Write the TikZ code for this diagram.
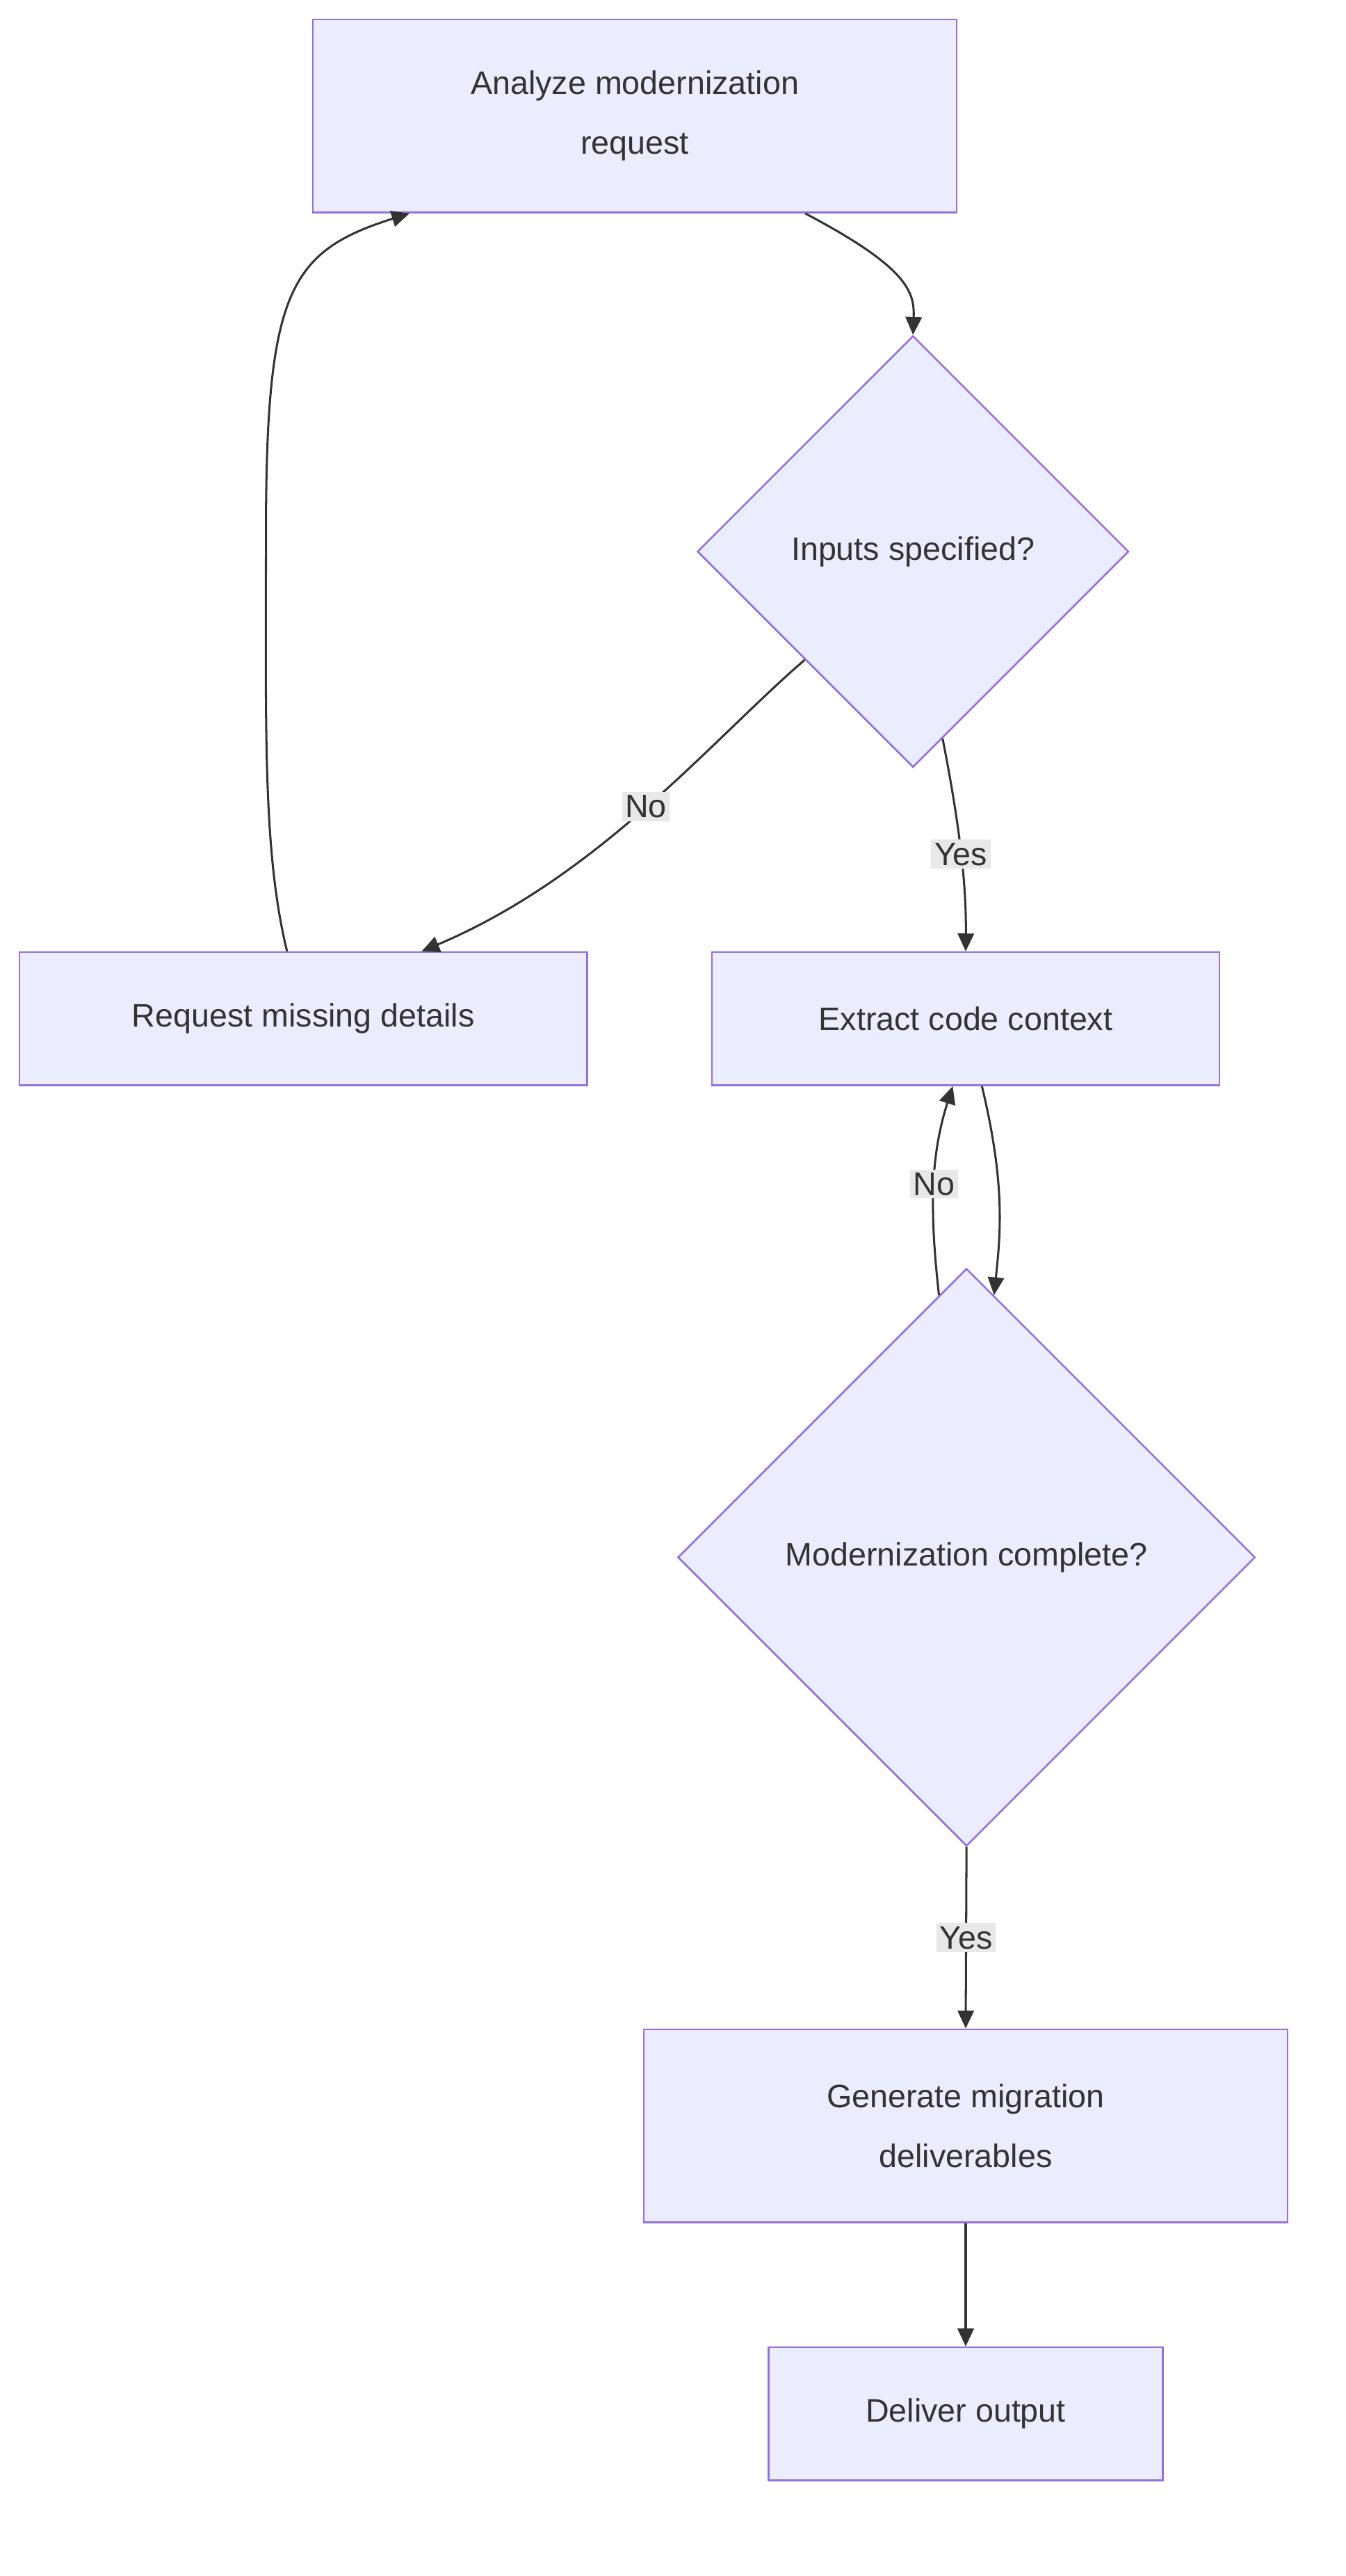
\documentclass[tikz,border=0pt]{standalone}
\usepackage{fontspec}
\setmainfont{Liberation Sans}
\usetikzlibrary{shapes.geometric,arrows.meta}
\definecolor{nfill}{HTML}{ECECFF}
\definecolor{nline}{HTML}{9370DB}
\definecolor{txt}{HTML}{333333}
\definecolor{lbl}{HTML}{E8E8E8}
\begin{document}
\begin{tikzpicture}[x=1pt,y=-1pt,
  every node/.style={font=\fontsize{20}{37}\selectfont, text=txt},
  box/.style={draw=nline, fill=nfill, line width=1.1pt, inner sep=0pt, align=center},
  dia/.style={draw=nline, fill=nfill, line width=1.1pt, shape=diamond, inner sep=0pt, aspect=1},
  edge/.style={draw=txt, line width=1.3pt, -{Triangle[length=11pt,width=10pt]}},
  lab/.style={fill=lbl, inner sep=2pt}]
\useasboundingbox (0,0) rectangle (830,1588);
\node[box, minimum width=397pt, minimum height=119pt] (an) at (391.5,71.5) {Analyze modernization\\request};
\node[dia, minimum width=266pt, minimum height=266pt] (in) at (563,340) {Inputs specified?};
\node[box, minimum width=350pt, minimum height=82pt] (rq) at (187,628) {Request missing details};
\node[box, minimum width=313pt, minimum height=82pt] (ex) at (595.5,628) {Extract code context};
\node[dia, minimum width=356pt, minimum height=356pt] (mo) at (596,960) {Modernization complete?};
\node[box, minimum width=397pt, minimum height=119pt] (ge) at (595.5,1310.5) {Generate migration\\deliverables};
\node[box, minimum width=243pt, minimum height=82pt] (de) at (595.5,1488) {Deliver output};

\draw[edge] ([xshift=105pt]an.south) .. controls (560,165) and (564,180) .. (in.north);
\draw[edge] (in.south west) .. controls (440,455) and (370,540) .. node[lab,pos=0.5] {No} ([xshift=73pt]rq.north);
\draw[edge] (in.-81) .. controls (590,500) and (596,540) .. node[lab,pos=0.55] {Yes} (ex.north);
\draw[edge] ([xshift=-10pt]rq.north) .. controls (162,525) and (164,450) .. (164,330) .. controls (164,180) and (178,155) .. ([xshift=-139pt]an.south);
\draw[edge] ([xshift=10pt]ex.south) .. controls (620,730) and (617,760) .. (mo.84);
\draw[edge] (mo.96) .. controls (573,745) and (574,712) .. node[lab,pos=0.5] {No} ([xshift=-8pt]ex.south);
\draw[edge] (mo.south) -- node[lab] {Yes} (ge.north);
\draw[edge] (ge.south) -- (de.north);
\end{tikzpicture}
\end{document}
